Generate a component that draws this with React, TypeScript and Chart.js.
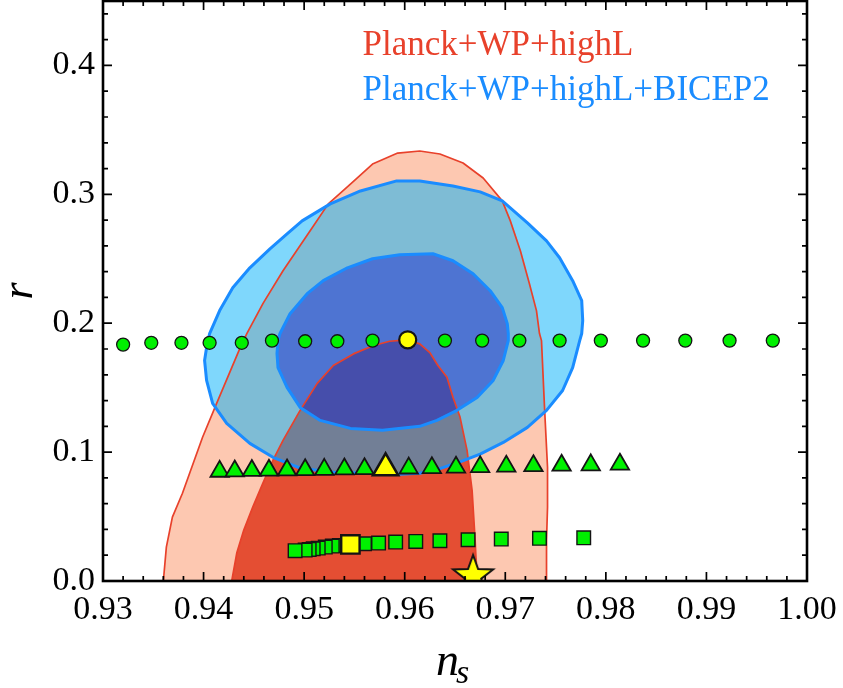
import { useEffect, useRef } from "react";
import { Chart, registerables } from "chart.js";

Chart.register(...registerables);

// ---------- axes ----------
const xRange = [0.93, 1.0];
const yRange = [0.0, 0.45];
const xTickValues = [0.93, 0.94, 0.95, 0.96, 0.97, 0.98, 0.99, 1.0];
const yTickValues = [0.0, 0.1, 0.2, 0.3, 0.4];
const xMinorStep = 0.002;
const yMinorStep = 0.02;
const xMajorStep = 0.01;
const yMajorStep = 0.1;

const legendLabels = ["Planck+WP+highL", "Planck+WP+highL+BICEP2"];
const xTitleMain = "n";
const xTitleSub = "s";
const yTitle = "r";

// ---------- contours (n_s, r) ----------
const redOuterNs = [0.936, 0.9363, 0.9369, 0.9379, 0.9389, 0.9399, 0.9413, 0.9436, 0.9443, 0.9459, 0.9479, 0.9508, 0.9524, 0.9546, 0.9568, 0.9593, 0.9615, 0.9635, 0.9658, 0.9678, 0.9697, 0.9705, 0.9715, 0.9724, 0.9731, 0.9734, 0.9736, 0.9739, 0.9742, 0.9742, 0.9741, 0.9741];
const redOuterR = [0, 0.0263, 0.0495, 0.0681, 0.0898, 0.1115, 0.1378, 0.1803, 0.192, 0.2152, 0.2407, 0.274, 0.2926, 0.308, 0.3235, 0.332, 0.3336, 0.3313, 0.3243, 0.3127, 0.2949, 0.2794, 0.2562, 0.2307, 0.2098, 0.192, 0.1865, 0.1347, 0.0882, 0.0573, 0.0317, 0];

const redInnerNs = [0.9428, 0.9433, 0.944, 0.9449, 0.9459, 0.9469, 0.9479, 0.9496, 0.9513, 0.9529, 0.9549, 0.9569, 0.9585, 0.9602, 0.9615, 0.9625, 0.9633, 0.9642, 0.9648, 0.9655, 0.9662, 0.9667, 0.967, 0.9672];
const redInnerR = [0, 0.0217, 0.0395, 0.0575, 0.0759, 0.0937, 0.1091, 0.1324, 0.1533, 0.1672, 0.1762, 0.1827, 0.186, 0.1871, 0.184, 0.1772, 0.1672, 0.1581, 0.1426, 0.1272, 0.1014, 0.0704, 0.0317, 0];

const blueOuterNs = [0.9403, 0.9401, 0.9403, 0.9409, 0.9423, 0.9446, 0.9469, 0.9496, 0.9529, 0.9562, 0.9595, 0.9615, 0.9635, 0.9655, 0.9675, 0.9698, 0.9722, 0.9741, 0.9757, 0.9767, 0.9774, 0.9776, 0.9777, 0.9776, 0.9767, 0.9754, 0.9741, 0.9722, 0.9697, 0.9675, 0.9648, 0.9615, 0.9592, 0.9556, 0.9526, 0.9498, 0.9483, 0.9466, 0.9446, 0.9429, 0.9416, 0.9406];
const blueOuterR = [0.1811, 0.1711, 0.1556, 0.1378, 0.1223, 0.1068, 0.096, 0.0875, 0.0844, 0.0836, 0.0828, 0.0836, 0.0872, 0.0925, 0.0985, 0.1075, 0.1192, 0.1324, 0.1478, 0.1656, 0.1865, 0.192, 0.202, 0.2175, 0.233, 0.2508, 0.2639, 0.2779, 0.2949, 0.3019, 0.3065, 0.3104, 0.3104, 0.3026, 0.2926, 0.2794, 0.2693, 0.2577, 0.243, 0.2276, 0.2098, 0.192];

const blueInnerNs = [0.9474, 0.9473, 0.9474, 0.9483, 0.9496, 0.9516, 0.9546, 0.9578, 0.9615, 0.9632, 0.9652, 0.9672, 0.9688, 0.9698, 0.9703, 0.9703, 0.9702, 0.9697, 0.9685, 0.9668, 0.9648, 0.9628, 0.9595, 0.9568, 0.9543, 0.9519, 0.9503, 0.9486, 0.9476];
const blueInnerR = [0.1865, 0.1765, 0.1656, 0.1502, 0.1347, 0.1246, 0.1184, 0.1169, 0.12, 0.1246, 0.1324, 0.1424, 0.1556, 0.1711, 0.1865, 0.192, 0.1997, 0.2121, 0.2252, 0.2384, 0.2485, 0.2539, 0.2531, 0.25, 0.243, 0.233, 0.2229, 0.2074, 0.192];

// ---------- model points ----------
const circleNs = [0.932, 0.9348, 0.9378, 0.9406, 0.9438, 0.9468, 0.9501, 0.9533, 0.9568, 0.964, 0.9677, 0.9714, 0.9754, 0.9795, 0.9837, 0.9879, 0.9923, 0.9966];
const circleR = [0.1834, 0.1848, 0.1848, 0.1848, 0.1848, 0.1865, 0.186, 0.186, 0.1865, 0.1865, 0.1865, 0.1865, 0.1865, 0.1865, 0.1865, 0.1865, 0.1865, 0.1865];
const circleHiNs = [0.9603];
const circleHiR = [0.1871];

const triNs = [0.9416, 0.9431, 0.9448, 0.9465, 0.9483, 0.9501, 0.952, 0.954, 0.956, 0.9604, 0.9627, 0.9651, 0.9675, 0.9701, 0.9728, 0.9756, 0.9785, 0.9814];
const triR = [0.085, 0.0853, 0.0856, 0.0858, 0.086, 0.0862, 0.0865, 0.0868, 0.087, 0.0875, 0.0878, 0.0882, 0.0886, 0.089, 0.0893, 0.0897, 0.09, 0.0905];
const triHiNs = [0.9581];
const triHiR = [0.0877];

const sqNs = [0.9491, 0.9501, 0.9505, 0.9509, 0.9514, 0.9521, 0.9528, 0.9535, 0.956, 0.9574, 0.9591, 0.9611, 0.9635, 0.9663, 0.9696, 0.9734, 0.9778];
const sqR = [0.0235, 0.024, 0.0245, 0.025, 0.0255, 0.0263, 0.0271, 0.0276, 0.0289, 0.0294, 0.0302, 0.0307, 0.0312, 0.032, 0.0325, 0.0331, 0.0335];
const sqHiNs = [0.9546];
const sqHiR = [0.0284];

const starNs = [0.9668];
const starR = [0.0039];

// ---------- colours ----------
const RED_LINE = "#e8412b";
const RED_OUTER_FILL = "#fdc8b1";
const RED_INNER_FILL = "#e44e33";
const BLUE_LINE = "#1a8cff";
const BLUE_OUTER_FILL = "rgba(0,176,250,0.5)";
const BLUE_INNER_FILL = "rgba(0,0,205,0.38)";
const GREEN = "#00f000";
const YELLOW = "#ffff00";
const EDGE = "#141414";
const SERIF = "'Liberation Serif'";

const pts = (xs: number[], ys: number[]) => xs.map((x, i) => ({ x, y: ys[i] }));
const closed = (xs: number[], ys: number[]) => {
  const p = pts(xs, ys);
  return [...p, { ...p[0] }];
};

function makeStar(R: number, r: number, lw: number) {
  const size = Math.ceil(2 * R + 2 * lw + 2);
  const s = size % 2 === 0 ? size : size + 1;
  const c = document.createElement("canvas");
  c.width = s;
  c.height = s;
  const g = c.getContext("2d")!;
  g.beginPath();
  for (let i = 0; i < 10; i++) {
    const rad = i % 2 === 0 ? R : r;
    const a = -Math.PI / 2 + (i * Math.PI) / 5;
    const px = s / 2 + rad * Math.cos(a);
    const py = s / 2 + rad * Math.sin(a);
    if (i === 0) g.moveTo(px, py);
    else g.lineTo(px, py);
  }
  g.closePath();
  g.fillStyle = YELLOW;
  g.fill();
  g.lineWidth = lw;
  g.strokeStyle = EDGE;
  g.lineJoin = "miter";
  g.stroke();
  return c;
}

const framePlugin = {
  id: "frameTicks",
  afterDatasetsDraw(chart: any) {
    const { ctx, chartArea: a, scales } = chart;
    const xs = scales.x;
    const ys = scales.y;
    ctx.save();
    ctx.strokeStyle = "#000";
    ctx.lineWidth = 1.7;
    ctx.beginPath();
    const nx = Math.round((xRange[1] - xRange[0]) / xMinorStep);
    for (let i = 0; i <= nx; i++) {
      const v = xRange[0] + i * xMinorStep;
      const q = (v - xRange[0]) / xMajorStep;
      const len = Math.abs(q - Math.round(q)) < 1e-6 ? 9 : 5;
      const px = xs.getPixelForValue(v);
      ctx.moveTo(px, a.bottom);
      ctx.lineTo(px, a.bottom - len);
      ctx.moveTo(px, a.top);
      ctx.lineTo(px, a.top + len);
    }
    const ny = Math.floor((yRange[1] - yRange[0]) / yMinorStep + 1e-9);
    for (let i = 0; i <= ny; i++) {
      const v = yRange[0] + i * yMinorStep;
      const q = (v - yRange[0]) / yMajorStep;
      const len = Math.abs(q - Math.round(q)) < 1e-6 ? 9 : 5;
      const py = ys.getPixelForValue(v);
      ctx.moveTo(a.left, py);
      ctx.lineTo(a.left + len, py);
      ctx.moveTo(a.right, py);
      ctx.lineTo(a.right - len, py);
    }
    ctx.stroke();
    ctx.lineWidth = 2.6;
    ctx.strokeRect(a.left, a.top, a.right - a.left, a.bottom - a.top);
    ctx.restore();
  },
  afterDraw(chart: any) {
    const { ctx, chartArea: a } = chart;
    ctx.save();
    ctx.font = `35px ${SERIF}`;
    ctx.textBaseline = "alphabetic";
    ctx.textAlign = "left";
    ctx.fillStyle = RED_LINE;
    ctx.fillText(legendLabels[0], a.left + 259.5, a.top + 54);
    ctx.fillStyle = BLUE_LINE;
    ctx.fillText(legendLabels[1], a.left + 259.5, a.top + 99);
    ctx.fillStyle = "#000";
    ctx.font = `italic 46px ${SERIF}`;
    ctx.fillText(xTitleMain, 436, 675);
    ctx.font = `italic 34px ${SERIF}`;
    ctx.fillText(xTitleSub, 456, 683);
    ctx.translate(32, (a.top + a.bottom) / 2);
    ctx.rotate(-Math.PI / 2);
    ctx.textAlign = "center";
    ctx.font = `italic 44px ${SERIF}`;
    ctx.fillText(yTitle, 0, 0);
    ctx.restore();
  },
};

export default function App() {
  const ref = useRef<HTMLCanvasElement | null>(null);
  useEffect(() => {
    if (!ref.current) return;
    const star = makeStar(21, 8.6, 2);
    const fillDs = (xs: number[], ys: number[], color: string, order: number) => ({
      data: closed(xs, ys),
      showLine: true,
      fill: "shape",
      backgroundColor: color,
      borderColor: "rgba(0,0,0,0)",
      borderWidth: 0,
      pointRadius: 0,
      pointHoverRadius: 0,
      tension: 0,
      order,
    });
    const lineDs = (xs: number[], ys: number[], color: string, w: number, order: number) => ({
      data: closed(xs, ys),
      showLine: true,
      fill: false,
      backgroundColor: "rgba(0,0,0,0)",
      borderColor: color,
      borderWidth: w,
      pointRadius: 0,
      pointHoverRadius: 0,
      tension: 0,
      borderJoinStyle: "round",
      order,
    });
    const ptDs = (data: any[], style: any, radius: number, color: string, bw: number, order: number) => ({
      data,
      showLine: false,
      pointStyle: style,
      pointRadius: radius,
      pointHoverRadius: radius,
      backgroundColor: color,
      borderColor: EDGE,
      borderWidth: bw,
      order,
    });

    const chart = new Chart(ref.current, {
      type: "scatter",
      data: {
        datasets: [
          fillDs(redOuterNs, redOuterR, RED_OUTER_FILL, 100),
          fillDs(redInnerNs, redInnerR, RED_INNER_FILL, 99),
          fillDs(blueOuterNs, blueOuterR, BLUE_OUTER_FILL, 98),
          fillDs(blueInnerNs, blueInnerR, BLUE_INNER_FILL, 97),
          lineDs(redOuterNs, redOuterR, RED_LINE, 1.7, 90),
          lineDs(redInnerNs, redInnerR, RED_LINE, 1.7, 89),
          lineDs(blueOuterNs, blueOuterR, BLUE_LINE, 3, 88),
          lineDs(blueInnerNs, blueInnerR, BLUE_LINE, 3, 87),
          ptDs(pts(circleNs, circleR), "circle", 6.5, GREEN, 1.3, 20),
          ptDs(pts(triNs, triR), "triangle", 10.6, GREEN, 1.8, 19),
          ptDs(pts(sqNs, sqR).reverse(), "rect", 9.6, GREEN, 1.4, 18),
          ptDs(pts(circleHiNs, circleHiR), "circle", 8.5, YELLOW, 2.2, 10),
          ptDs(pts(triHiNs, triHiR), "triangle", 14.5, YELLOW, 2.6, 9),
          ptDs(pts(sqHiNs, sqHiR), "rect", 13, YELLOW, 2.4, 8),
          ptDs(pts(starNs, starR), star, 21, YELLOW, 0, 7),
        ] as any,
      },
      options: {
        animation: false,
        responsive: false,
        events: [],
        layout: { autoPadding: false, padding: { left: 0, right: 36, top: 1, bottom: 0 } },
        plugins: {
          legend: { display: false },
          tooltip: { enabled: false },
        },
        scales: {
          x: {
            type: "linear",
            min: xRange[0],
            max: xRange[1],
            afterBuildTicks: (s: any) => {
              s.ticks = xTickValues.map((v) => ({ value: v }));
            },
            afterFit: (s: any) => {
              s.height = 107;
              s.paddingLeft = 0;
              s.paddingRight = 0;
            },
            ticks: {
              callback: (v: any) => Number(v).toFixed(2),
              font: { family: SERIF, size: 34 },
              color: "#000",
              padding: 9,
              maxRotation: 0,
              autoSkip: false,
            },
            grid: { display: false, drawTicks: false },
            border: { display: false },
          },
          y: {
            type: "linear",
            min: yRange[0],
            max: yRange[1],
            afterBuildTicks: (s: any) => {
              s.ticks = yTickValues.map((v) => ({ value: v }));
            },
            afterFit: (s: any) => {
              s.width = 103;
              s.paddingTop = 0;
              s.paddingBottom = 0;
            },
            ticks: {
              callback: (v: any) => Number(v).toFixed(1),
              font: { family: SERIF, size: 34 },
              color: "#000",
              padding: 8,
              autoSkip: false,
            },
            grid: { display: false, drawTicks: false },
            border: { display: false },
          },
        },
      } as any,
      plugins: [framePlugin],
    });
    return () => chart.destroy();
  }, []);

  return (
    <div style={{ position: "absolute", left: 0, top: 0, width: 843, height: 688, background: "#fff" }}>
      <canvas ref={ref} width={843} height={688} style={{ display: "block", width: 843, height: 688 }} />
    </div>
  );
}
